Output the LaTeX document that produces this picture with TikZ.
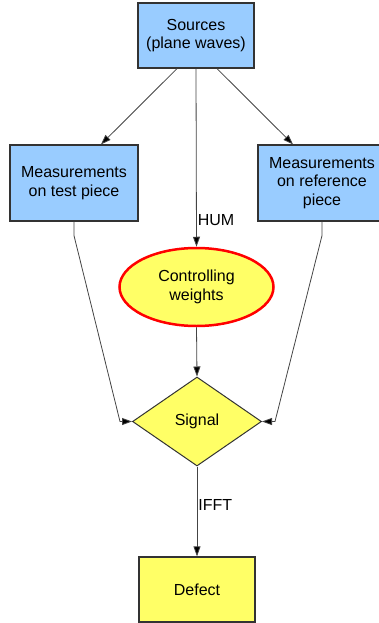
\documentclass[tikz,border=0pt]{standalone}
\usepackage{fontspec}
\setmainfont{Liberation Sans}
\usetikzlibrary{shapes.geometric,arrows.meta}
\definecolor{boxblue}{HTML}{99CCFF}
\definecolor{boxyellow}{HTML}{FFFF66}
\definecolor{edgegray}{HTML}{333333}
\definecolor{linegray}{HTML}{444444}
\tikzset{
  txt/.style={font=\fontsize{16}{18.5}\selectfont, align=center, text=black},
  bluebox/.style={txt, draw=edgegray, line width=1.2pt, fill=boxblue, inner sep=0pt},
  yelbox/.style={txt, draw=edgegray, line width=1.2pt, fill=boxyellow, inner sep=0pt},
  arr/.style={draw=linegray, line width=0.8pt, -{Triangle[length=10pt,width=7pt,fill=black]}},
  lbl/.style={txt, anchor=west, inner sep=1pt}
}
\begin{document}
\begin{tikzpicture}[x=1pt,y=-1pt]
\useasboundingbox (0,0) rectangle (379,623);
\clip (0,0) rectangle (379,623);
\node[bluebox, minimum width=116pt, minimum height=65pt] (src) at (196,35.5) {Sources\\(plane waves)};
\node[bluebox, minimum width=128pt, minimum height=76pt] (lm) at (74,183) {Measurements\\on test piece};
\node[bluebox, minimum width=128pt, minimum height=76pt] (rm) at (322,183) {Measurements\\on reference\\piece};
\node[txt, ellipse, draw=red, line width=2.5pt, fill=boxyellow, minimum width=154pt, minimum height=78pt, inner sep=0pt] (cw) at (196.5,287) {Controlling\\weights};
\node[txt, diamond, draw=edgegray, line width=1pt, fill=boxyellow, minimum width=129pt, minimum height=89pt, inner sep=0pt] (sig) at (197,421.5) {Signal};
\node[yelbox, minimum width=116pt, minimum height=65pt] (def) at (197,589.5) {Defect};
\coordinate (lk) at (120,421.5);
\coordinate (rk) at (275,421.5);
\draw[arr] ([xshift=-19pt]src.south) -- ([xshift=27pt]lm.north);
\draw[arr] ([xshift=21pt]src.south) -- ([xshift=-29pt]rm.north);
\draw[arr] (src.south) -- node[lbl, pos=0.85] {HUM} (cw.north);
\draw[arr] (lm.south) -- ++(0,14) -- (lk) -- (sig.west);
\draw[arr] (rm.south) -- ++(0,14) -- (rk) -- (sig.east);
\draw[arr] (cw.south) -- (sig.north);
\draw[arr] (sig.south) -- node[lbl, pos=0.43] {IFFT} (def.north);
\end{tikzpicture}
\end{document}
